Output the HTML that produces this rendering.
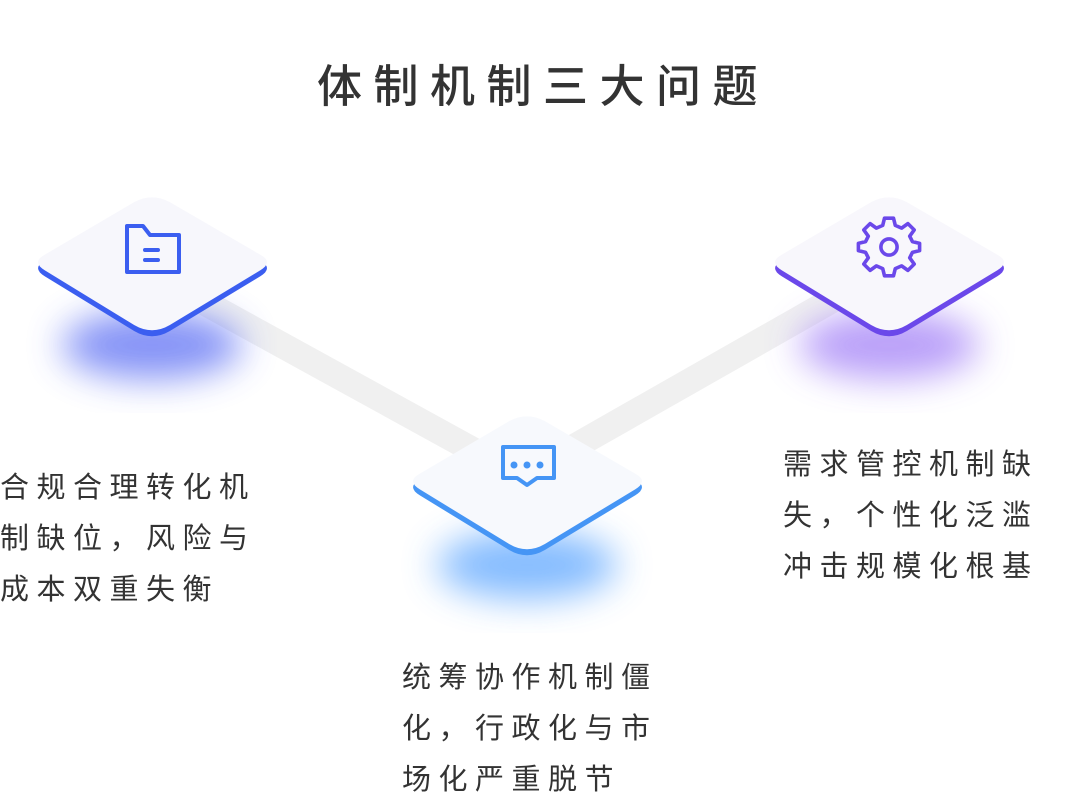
<!DOCTYPE html>
<html><head><meta charset="utf-8"><style>
body{margin:0;width:1074px;height:812px;background:#fff;overflow:hidden;position:relative;font-family:"Liberation Sans","Noto Sans CJK SC",sans-serif;color:#333}
.t{position:absolute;font-size:29px;letter-spacing:7.5px;line-height:51px;color:#333}
h1{position:absolute;top:50px;left:6px;width:1074px;text-align:center;margin:0;font-size:45px;font-weight:500;letter-spacing:11.5px;color:#333}
svg{position:absolute;left:0;top:0}
</style></head><body>
<svg width="1074" height="812" viewBox="0 0 1074 812">
<defs>
<filter id="b" x="-50%" y="-50%" width="200%" height="200%"><feGaussianBlur stdDeviation="18"/></filter>
<path id="d" d="M-102,-7 Q-115,0 -102,8 L-17,60 Q0,70 17,60 L103,8 Q116,0 103,-7 L17,-57 Q0,-66 -17,-57 Z" transform="scale(1.05,1.05)"/>
</defs>
<line x1="200" y1="300" x2="500" y2="465" stroke="#f0f0f0" stroke-width="26"/>
<line x1="560" y1="455" x2="850" y2="290" stroke="#f0f0f0" stroke-width="26"/>
<ellipse cx="152" cy="345" rx="90" ry="34" fill="#6f80f5" opacity="0.85" filter="url(#b)"/>
<ellipse cx="527" cy="565" rx="90" ry="34" fill="#6fb0ff" opacity="0.85" filter="url(#b)"/>
<ellipse cx="889" cy="345" rx="90" ry="34" fill="#ad8ff8" opacity="0.85" filter="url(#b)"/>
<g transform="translate(152,262)"><use href="#d" y="6" fill="#3b5ef0"/><use href="#d" fill="#f7f7fc"/></g>
<g transform="translate(527,481)"><use href="#d" y="6" fill="#4595f5"/><use href="#d" fill="#f7f9fd"/></g>
<g transform="translate(889,262)"><use href="#d" y="6" fill="#6b48ea"/><use href="#d" fill="#f8f7fc"/></g>
<g fill="none" stroke-width="4" stroke-linejoin="round" stroke-linecap="round">
<path d="M127,226 L143,226 L150,235 L179,235 L179,272 L127,272 Z" stroke="#3b5ef0"/>
<path d="M145,250 L158,250 M145,260 L158,260" stroke="#3b5ef0"/>
<path d="M503,447 L554,447 L554,478 L537,478 L527,485 L517,478 L503,478 Z" stroke="#4595f5"/>
<g transform="translate(889,247) scale(0.9) translate(-889,-247)">
<circle cx="889" cy="247" r="9" stroke="#6b48ea"/>
<path d="M884,215 L894,215 L896,223 L903,226 L910,221 L917,228 L912,235 L915,241 L923,243 L923,251 L915,253 L912,259 L917,266 L910,273 L903,268 L896,271 L894,279 L884,279 L882,271 L875,268 L868,273 L861,266 L866,259 L863,253 L855,251 L855,243 L863,241 L866,235 L861,228 L868,221 L875,226 L882,223 Z" stroke="#6b48ea"/>
</g>
</g>
<circle cx="514" cy="465" r="3.5" fill="#4595f5"/><circle cx="527" cy="465" r="3.5" fill="#4595f5"/><circle cx="540" cy="465" r="3.5" fill="#4595f5"/>
</svg>
<h1>体制机制三大问题</h1>
<div class="t" style="left:0;top:463px">合规合理转化机<br>制缺位，风险与<br>成本双重失衡</div>
<div class="t" style="left:402px;top:653px">统筹协作机制僵<br>化，行政化与市<br>场化严重脱节</div>
<div class="t" style="left:783px;top:440px">需求管控机制缺<br>失，个性化泛滥<br>冲击规模化根基</div>
</body></html>
